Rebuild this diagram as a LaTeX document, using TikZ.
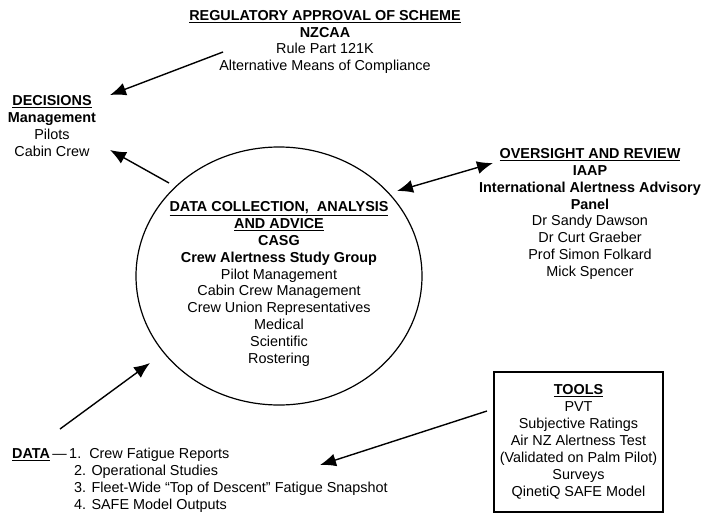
\documentclass[tikz,border=0pt]{standalone}
\usepackage{fontspec}
\setmainfont{Liberation Sans}
\usetikzlibrary{arrows.meta,shapes.geometric,positioning}
\newcommand{\headline}[1]{\underline{\textbf{#1}}}
\tikzset{
    blocktext/.style={align=center, inner sep=0pt, font=\fontsize{14.4}{16.9}\selectfont},
    ringline/.style={line width=1.2pt, color=black},
    boxline/.style={line width=1.2pt, color=black},
    arrowline/.style={line width=1.4pt, -{Latex[length=16pt,width=13pt]}},
    twoarrow/.style={line width=1.4pt, {Latex[length=16pt,width=13pt]}-{Latex[length=16pt,width=13pt]}}
}
\begin{document}
\begin{tikzpicture}[x=1pt,y=-1pt]
        \useasboundingbox (0,0) rectangle (701,514);

        \node[blocktext] (approval) at (325,42) {\headline{REGULATORY APPROVAL OF SCHEME}\\ \textbf{NZCAA}\\ Rule Part 121K\\ Alternative Means of Compliance};
        \node[blocktext] (decisions) at (52,126) {\headline{DECISIONS}\\ \textbf{Management}\\ Pilots\\ Cabin Crew};
        \node[ellipse, ringline, draw, minimum width=286, minimum height=258, inner sep=0pt] (ring) at (279,276) {};
        \node[blocktext] (casg) at (279,284) {\headline{DATA COLLECTION,\ \ ANALYSIS}\\ \headline{AND ADVICE}\\ \textbf{CASG}\\ \textbf{Crew Alertness Study Group}\\ Pilot Management\\ Cabin Crew Management\\ Crew Union Representatives\\ Medical\\ Scientific\\ Rostering};
        \node[blocktext] (oversight) at (590,214) {\headline{OVERSIGHT AND REVIEW}\\ \textbf{IAAP}\\ \textbf{International Alertness Advisory}\\ \textbf{Panel}\\ Dr Sandy Dawson\\ Dr Curt Graeber\\ Prof Simon Folkard\\ Mick Spencer};
        \node[blocktext, boxline, draw, minimum width=169, minimum height=140] (tools) at (578.5,442) {\headline{TOOLS}\\ PVT\\ Subjective Ratings\\ Air NZ Alertness Test\\ (Validated on Palm Pilot)\\ Surveys\\ QinetiQ SAFE Model};
        \node[blocktext, align=left, anchor=north west] (data) at (12,448) {\headline{DATA}\,---\,1.\ \ Crew Fatigue Reports\\ \hspace*{62pt}2. Operational Studies\\ \hspace*{62pt}3. Fleet-Wide ``Top of Descent'' Fatigue Snapshot\\ \hspace*{62pt}4. SAFE Model Outputs};

        % arrow ends
        \coordinate (approvaltail) at (223,52);
        \coordinate (decisionstop) at (110,95);
        \coordinate (ringtail) at (169,183);
        \coordinate (decisionslow) at (110,150);
        \coordinate (ringright) at (397,191);
        \coordinate (oversightleft) at (493,163);
        \coordinate (datatail) at (60,429);
        \coordinate (ringlow) at (150,363);
        \coordinate (toolstail) at (487,411);
        \coordinate (datatip) at (320,465);

        \draw[arrowline] (approvaltail) -- (decisionstop);
        \draw[arrowline] (ringtail) -- (decisionslow);
        \draw[twoarrow] (ringright) -- (oversightleft);
        \draw[arrowline] (datatail) -- (ringlow);
        \draw[arrowline] (toolstail) -- (datatip);

    \end{tikzpicture}
\end{document}
